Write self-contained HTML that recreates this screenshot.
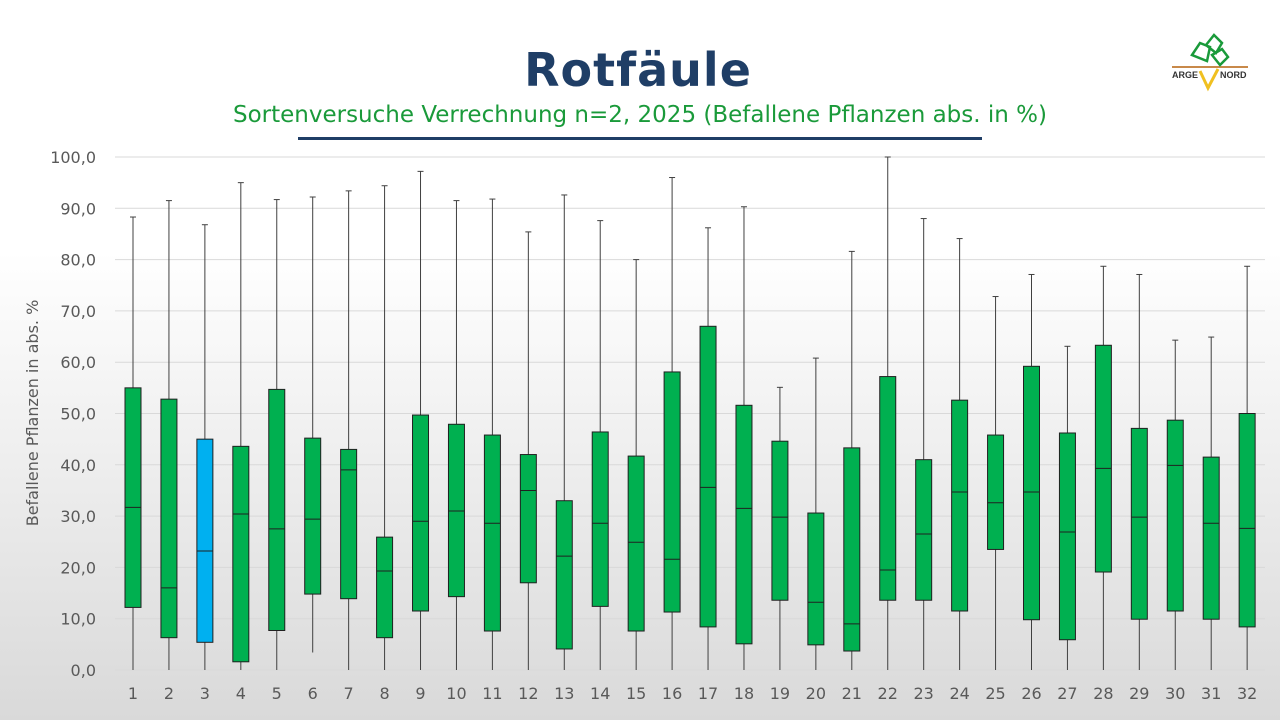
<!DOCTYPE html>
<html><head><meta charset="utf-8"><style>
html,body{margin:0;padding:0}
body{width:1280px;height:720px;overflow:hidden;background:linear-gradient(#ffffff 0%,#ffffff 35%,#d9d9d9 100%);font-family:"Liberation Sans",sans-serif}
</style></head><body>
<svg id="s" width="1280" height="720" xmlns="http://www.w3.org/2000/svg" style="position:absolute;left:0;top:0">
<text x="638" y="86" text-anchor="middle" font-family="DejaVu Sans, sans-serif" font-weight="bold" font-size="46" fill="#1f3e66" letter-spacing="1">Rotfäule</text>
<text x="640" y="122" text-anchor="middle" font-family="DejaVu Sans, sans-serif" font-size="23" fill="#1a9a3a">Sortenversuche Verrechnung n=2, 2025 (Befallene Pflanzen abs. in %)</text>
<rect x="298" y="137" width="684" height="3" fill="#1f3e66"/>
<text transform="translate(38,413) rotate(-90)" text-anchor="middle" font-family="DejaVu Sans, sans-serif" font-size="16" fill="#595959">Befallene Pflanzen in abs. %</text>
<g id="g"></g>
<g transform="translate(1170,33)">
<rect x="2" y="33" width="76" height="2" fill="#c8894a"/>
<path d="M30 38 L38 55 L48 36" stroke="#f0c020" stroke-width="3" fill="none"/>
<path d="M22 22 l8-12 l10 4 l-3 14 z M36 12 l8-10 l8 8 l-6 10 z M42 22 l10-6 l6 8 l-8 8 z" stroke="#1a9a3a" stroke-width="2.5" fill="none"/>
<text x="2" y="45" font-size="9" font-weight="bold" fill="#333">ARGE</text>
<text x="50" y="45" font-size="9" font-weight="bold" fill="#333">NORD</text>
</g>
</svg>
<script>
var d=[[88.3,55,31.7,12.2,0],[91.5,52.8,16,6.3,0],[86.8,45,23.2,5.4,0],[95,43.6,30.4,1.6,0],[91.7,54.7,27.5,7.7,0],[92.2,45.2,29.4,14.8,3.4],[93.4,43,39,13.9,0],[94.4,25.9,19.3,6.3,0],[97.2,49.7,29,11.5,0],[91.5,47.9,31,14.3,0],[91.8,45.8,28.6,7.6,0],[85.4,42,35,17,0],[92.6,33,22.2,4.1,0],[87.6,46.4,28.6,12.4,0],[80,41.7,24.9,7.6,0],[96,58.1,21.6,11.3,0],[86.2,67,35.6,8.4,0],[90.3,51.6,31.5,5.1,0],[55.1,44.6,29.8,13.6,0],[60.8,30.6,13.2,4.9,0],[81.6,43.3,9,3.7,0],[100,57.2,19.5,13.6,0],[88,41,26.5,13.6,0],[84.1,52.6,34.7,11.5,0],[72.8,45.8,32.6,23.5,0],[77.1,59.2,34.7,9.8,0],[63.1,46.2,26.9,5.9,0],[78.7,63.3,39.3,19.1,0],[77.1,47.1,29.8,9.9,0],[64.3,48.7,39.9,11.5,0],[64.9,41.5,28.6,9.9,0],[78.7,50,27.6,8.4,0]];
function Y(v){return 670-v*5.13}
var h='';
for(var i=0;i<=10;i++){var y=Y(i*10);h+='<line x1="115" x2="1265" y1="'+y+'" y2="'+y+'" stroke="#d9d9d9" stroke-width="1"/>';
h+='<text x="96" y="'+(y+6)+'" text-anchor="end" font-family="DejaVu Sans, sans-serif" font-size="16" fill="#595959">'+(i*10)+',0</text>';}
for(var k=0;k<32;k++){var x=133+k*35.94,a=d[k];
h+='<line x1="'+x+'" x2="'+x+'" y1="'+Y(a[0])+'" y2="'+Y(a[4])+'" stroke="#404040" stroke-width="1"/>';
h+='<line x1="'+(x-3)+'" x2="'+(x+3)+'" y1="'+Y(a[0])+'" y2="'+Y(a[0])+'" stroke="#404040"/>';
h+='<rect x="'+(x-8)+'" y="'+Y(a[1])+'" width="16" height="'+(Y(a[3])-Y(a[1]))+'" fill="'+(k==2?'#00b0f0':'#00b050')+'" stroke="#202020" stroke-width="1"/>';
h+='<line x1="'+(x-8)+'" x2="'+(x+8)+'" y1="'+Y(a[2])+'" y2="'+Y(a[2])+'" stroke="#202020"/>';
h+='<text x="'+x+'" y="699" text-anchor="middle" font-family="DejaVu Sans, sans-serif" font-size="16" fill="#595959">'+(k+1)+'</text>';}
document.getElementById('g').innerHTML=h;
</script>
</body></html>
